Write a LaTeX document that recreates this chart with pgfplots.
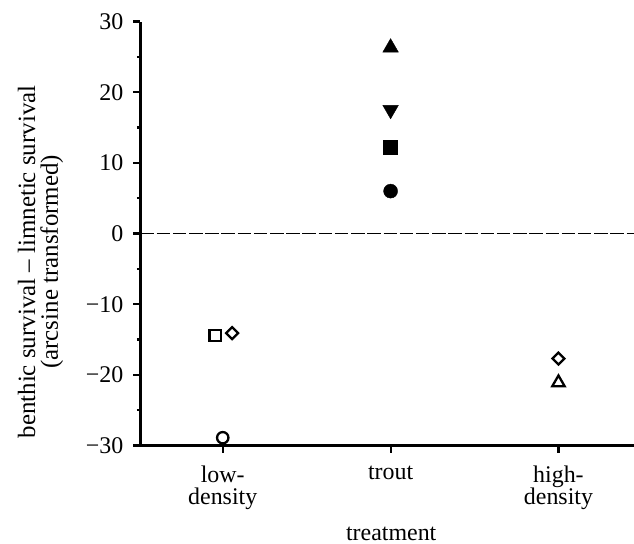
\documentclass[border=0pt]{standalone}
\usepackage{fontspec}
\setmainfont{Liberation Serif}
\usepackage{pgfplots}
\pgfplotsset{compat=1.18}
\begin{document}
\fontsize{24}{22}\selectfont
\begin{tikzpicture}
\useasboundingbox (-140.5bp,-98.5bp) rectangle (493.5bp,445.5bp);
\begin{axis}[
  name=ax, at={(0,0)}, anchor=south west,
  scale only axis, width=493.5bp, height=424bp,
  xmin=-0.49, xmax=2.45, ymin=-30, ymax=30,
  axis x line*=bottom, axis y line*=left,
  axis line style={line width=2.2bp, -},
  tick align=outside,
  major tick length=7bp, minor tick length=3.5bp,
  every tick/.style={black, line width=2.2bp},
  xtick={0,1,2},
  xticklabels={{low-\\density},trout,{high-\\density}},
  xticklabel style={align=center, inner sep=0pt, yshift=-13bp, font=\fontsize{24}{22}\selectfont},
  ytick={-30,-20,...,30}, minor ytick={-25,-15,...,25},
  yticklabels={−30,−20,−10,0,10,20,30},
  yticklabel style={inner sep=0pt, xshift=-10bp, font=\fontsize{24}{22}\selectfont},
  xlabel={treatment},
  xlabel style={at={(axis description cs:0.508,0)}, anchor=base, yshift=-94.5bp, inner sep=0pt, font=\fontsize{24}{22}\selectfont},
  ylabel={benthic survival – limnetic survival\\(arcsine transformed)},
  ylabel style={at={(axis description cs:0,0.433)}, anchor=south, yshift=77bp, align=center, inner sep=0pt, font=\fontsize{25}{23}\selectfont},
  clip=false,
]
% zero line
\addplot[black, line width=1.8bp, dash pattern=on 13.5bp off 2.7bp] coordinates {(-0.49,0) (2.45,0)};
% low-density (open)
\addplot[only marks, mark=square, mark size=5.6bp, mark options={line width=2.3bp, black}] coordinates {(-0.045,-14.4)};
\addplot[only marks, mark=square, mark size=4.2bp, mark options={line width=2.3bp, black, rotate=45}] coordinates {(0.056,-14.1)};
\addplot[only marks, mark=o, mark size=5.7bp, mark options={line width=2.3bp, black}] coordinates {(0,-28.9)};
% trout (filled)
\addplot[only marks, mark=triangle*, mark size=9bp, mark options={black}] coordinates {(1,26.3)};
\addplot[only marks, mark=triangle*, mark size=9bp, mark options={black, rotate=180}] coordinates {(1,17.5)};
\addplot[only marks, mark=square*, mark size=7bp, mark options={black}] coordinates {(1,12.2)};
\addplot[only marks, mark=*, mark size=7bp, mark options={black}] coordinates {(1,6.0)};
% high-density (open)
\addplot[only marks, mark=square, mark size=4.2bp, mark options={line width=2.3bp, black, rotate=45}] coordinates {(2,-17.7)};
\addplot[only marks, mark=triangle, mark size=7.1bp, mark options={line width=2.3bp, black}] coordinates {(2,-21.1)};
\end{axis}
\end{tikzpicture}
\end{document}
